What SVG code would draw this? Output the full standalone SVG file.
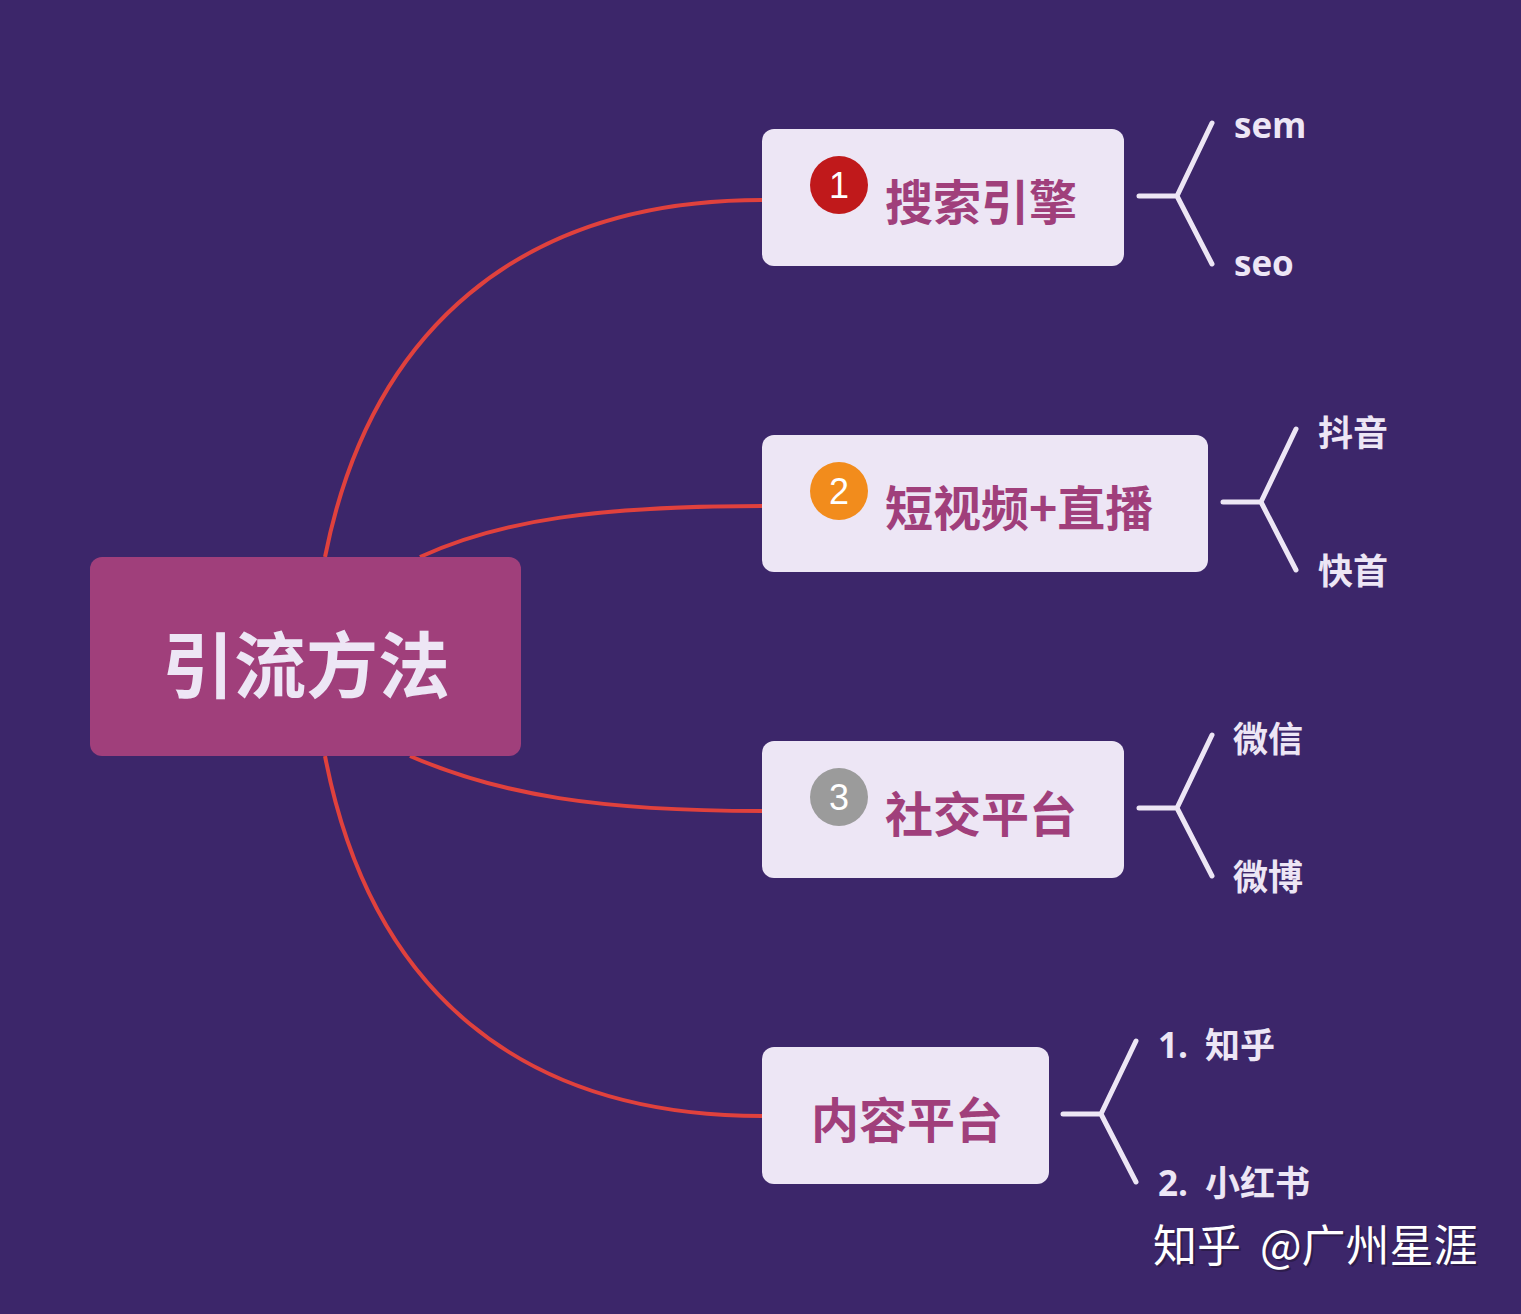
<svg xmlns="http://www.w3.org/2000/svg" width="1521" height="1314" viewBox="0 0 1521 1314">
<style>
.bg{fill:#3c266a}
.child{fill:#ede6f5}
.cjk{font-family:"Noto Sans CJK SC","Noto Sans",sans-serif;font-weight:bold}
.ctext{font-size:48px;fill:#a03f7b}
.leaf{font-family:"Open Sans","Noto Sans CJK SC",sans-serif;font-weight:bold;font-size:35px;fill:#ede6f5}
.num{font-family:"Liberation Sans","Noto Sans",sans-serif;font-size:36px;fill:#ffffff;text-anchor:middle}
.conn{fill:none;stroke:#e0413d;stroke-width:4}
.br{fill:none;stroke:#ede6f5;stroke-width:5;stroke-linecap:round;stroke-linejoin:round}
.wm{font-family:"Noto Sans CJK SC",sans-serif;font-size:44px}
</style>
<rect class="bg" x="0" y="0" width="1521" height="1314"/>
<g id="connectors">
<path class="conn" d="M325,557 C370,330 520,200 762,200"/>
<path class="conn" d="M420,557 C500,520 600,506 762,506"/>
<path class="conn" d="M410,756 C500,795 600,811 762,811"/>
<path class="conn" d="M325,756 C370,990 520,1116 762,1116"/>
<path class="br" d="M1139,196 H1177 M1212,123 L1177,196 L1212,264"/>
<path class="br" d="M1223,502 H1261 M1296,429 L1261,502 L1296,570"/>
<path class="br" d="M1139,808 H1177 M1212,735 L1177,808 L1212,876"/>
<path class="br" d="M1063,1114 H1101 M1136,1041 L1101,1114 L1136,1182"/>
</g>
<g id="root">
<rect x="90" y="557" width="431" height="199" rx="12" fill="#a03f7b"/>
<text class="cjk" x="306" y="692" font-size="72" fill="#ede6f5" text-anchor="middle">引流方法</text>
</g>
<g id="node1">
<rect class="child" x="762" y="129" width="362" height="137" rx="12"/>
<circle cx="839" cy="185" r="29" fill="#c0191b"/>
<text class="num" x="839" y="198">1</text>
<text class="cjk ctext" x="885" y="220">搜索引擎</text>
</g>
<g id="node2">
<rect class="child" x="762" y="435" width="446" height="137" rx="12"/>
<circle cx="839" cy="491" r="29" fill="#f28c1c"/>
<text class="num" x="839" y="504">2</text>
<text class="cjk ctext" x="885" y="526">短视频+直播</text>
</g>
<g id="node3">
<rect class="child" x="762" y="741" width="362" height="137" rx="12"/>
<circle cx="839" cy="797" r="29" fill="#9b9b9b"/>
<text class="num" x="839" y="810">3</text>
<text class="cjk ctext" x="885" y="832">社交平台</text>
</g>
<g id="node4">
<rect class="child" x="762" y="1047" width="287" height="137" rx="12"/>
<text class="cjk ctext" x="811" y="1138">内容平台</text>
</g>
<g id="leaves">
<text class="leaf" x="1234" y="138">sem</text>
<text class="leaf" x="1234" y="276">seo</text>
<text class="leaf" x="1318" y="446">抖音</text>
<text class="leaf" x="1318" y="584">快首</text>
<text class="leaf" x="1233" y="752">微信</text>
<text class="leaf" x="1233" y="890">微博</text>
<text class="leaf" x="1158" y="1058">1.<tspan x="1205">知乎</tspan></text>
<text class="leaf" x="1158" y="1196">2.<tspan x="1205">小红书</tspan></text>
</g>
<g id="watermark">
<text class="wm" x="1155" y="1264" fill="#2a1a44" opacity="0.8">知乎<tspan x="1262">@广州星涯</tspan></text>
<text class="wm" x="1153" y="1262" fill="#ffffff">知乎<tspan x="1260">@广州星涯</tspan></text>
</g>
</svg>
